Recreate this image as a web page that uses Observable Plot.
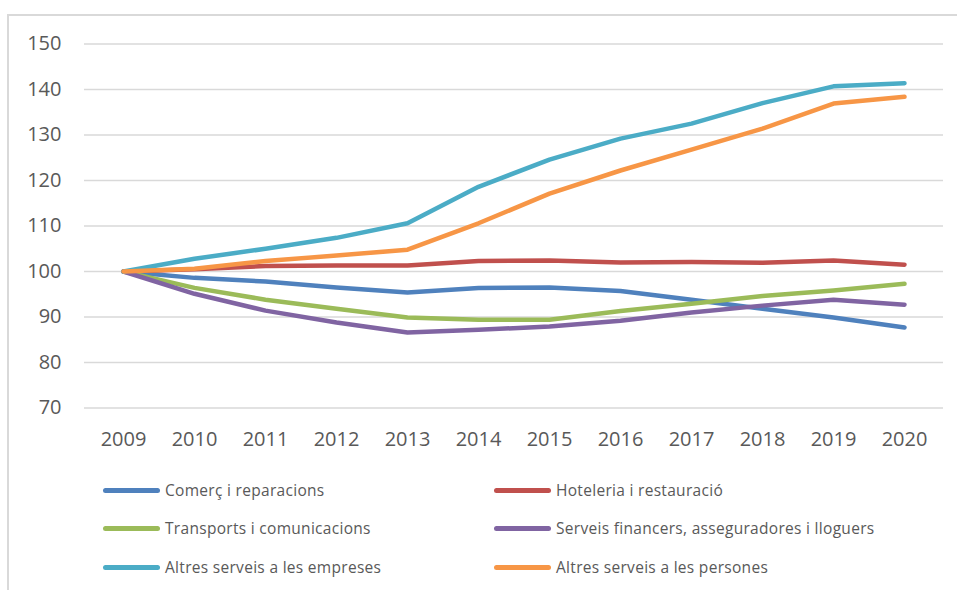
<!DOCTYPE html>
<html>
<head>
<meta charset="utf-8">
<script src="https://cdn.jsdelivr.net/npm/d3@7"></script>
<script src="https://cdn.jsdelivr.net/npm/@observablehq/plot@0.6"></script>
<style>
  html, body { margin: 0; padding: 0; background: #fff; }
  #wrap { position: relative; width: 957px; height: 590px; overflow: hidden; font-family: "Open Sans", sans-serif; }
  #frame { position: absolute; left: 7px; top: 14px; right: -10px; bottom: -10px; border-left: 2px solid #d9d9d9; border-top: 2px solid #d9d9d9; }
  #chart { position: absolute; left: 0; top: 0; }
  .leg { position: absolute; display: flex; align-items: center; font-size: 15.5px; letter-spacing: 0.3px; color: #595959; white-space: nowrap; }
  .sw { width: 57px; height: 5px; border-radius: 3px; margin-right: 5px; }
</style>
</head>
<body>
<div id="wrap">
  <div id="frame"></div>
  <div id="chart"></div>
  <div id="legend"></div>
</div>
<script>
const years = [2009, 2010, 2011, 2012, 2013, 2014, 2015, 2016, 2017, 2018, 2019, 2020];
const seriesNames = [
  "Comerç i reparacions",
  "Hoteleria i restauració",
  "Transports i comunicacions",
  "Serveis financers, asseguradores i lloguers",
  "Altres serveis a les empreses",
  "Altres serveis a les persones"
];
const colors = ["#4F81BD", "#C0504D", "#9BBB59", "#8064A2", "#4BACC6", "#F79646"];
const comerc      = [100, 98.6, 97.8, 96.5, 95.4, 96.4, 96.5, 95.7, 93.8, 91.8, 89.9, 87.7];
const hoteleria   = [100, 100.5, 101.2, 101.3, 101.3, 102.3, 102.4, 102.0, 102.1, 101.9, 102.4, 101.5];
const transports  = [100, 96.4, 93.8, 91.8, 89.9, 89.4, 89.4, 91.3, 92.9, 94.6, 95.8, 97.3];
const financers   = [100, 95.1, 91.4, 88.8, 86.6, 87.2, 87.9, 89.2, 91.0, 92.5, 93.8, 92.7];
const empreses    = [100, 102.8, 105.0, 107.4, 110.6, 118.6, 124.6, 129.2, 132.5, 137.0, 140.7, 141.4];
const persones    = [100, 100.6, 102.3, 103.5, 104.8, 110.6, 117.1, 122.2, 126.8, 131.4, 136.9, 138.4];
const yTicks = [70, 80, 90, 100, 110, 120, 130, 140, 150];

const allValues = [comerc, hoteleria, transports, financers, empreses, persones];
const data = [];
allValues.forEach((vals, i) => {
  vals.forEach((v, j) => data.push({serie: seriesNames[i], year: years[j], value: v}));
});

const chart = Plot.plot({
  width: 957,
  height: 460,
  marginLeft: 84,
  marginRight: 14,
  marginTop: 43.5,
  marginBottom: 52.5,
  style: {fontFamily: "Open Sans, sans-serif", fontSize: "20px", color: "#595959", background: "transparent"},
  x: {type: "point", domain: years, padding: 0.5, align: 0.5},
  y: {domain: [70, 150]},
  color: {domain: seriesNames, range: colors},
  marks: [
    Plot.ruleY(yTicks, {stroke: "#d9d9d9", strokeWidth: 1.5}),
    Plot.axisY({ticks: yTicks, tickSize: 0, tickPadding: 23, label: null, fill: "#595959", fontSize: 20}),
    Plot.axisX({ticks: years, tickSize: 0, tickPadding: 23.5, label: null, fill: "#595959", fontSize: 20, tickFormat: d => String(d)}),
    Plot.line(data, {x: "year", y: "value", z: "serie", stroke: "serie", strokeWidth: 4.5, strokeLinecap: "round", strokeLinejoin: "round"})
  ]
});
document.getElementById("chart").appendChild(chart);

const legend = document.getElementById("legend");
const colX = [103, 494];
const rowY = [490, 528, 567];
seriesNames.forEach((name, i) => {
  const el = document.createElement("div");
  el.className = "leg";
  el.style.left = colX[i % 2] + "px";
  el.style.top = (rowY[Math.floor(i / 2)] - 10) + "px";
  el.style.height = "20px";
  const sw = document.createElement("div");
  sw.className = "sw";
  sw.style.background = colors[i];
  el.appendChild(sw);
  const t = document.createElement("span");
  t.textContent = name;
  el.appendChild(t);
  legend.appendChild(el);
});
</script>
</body>
</html>
